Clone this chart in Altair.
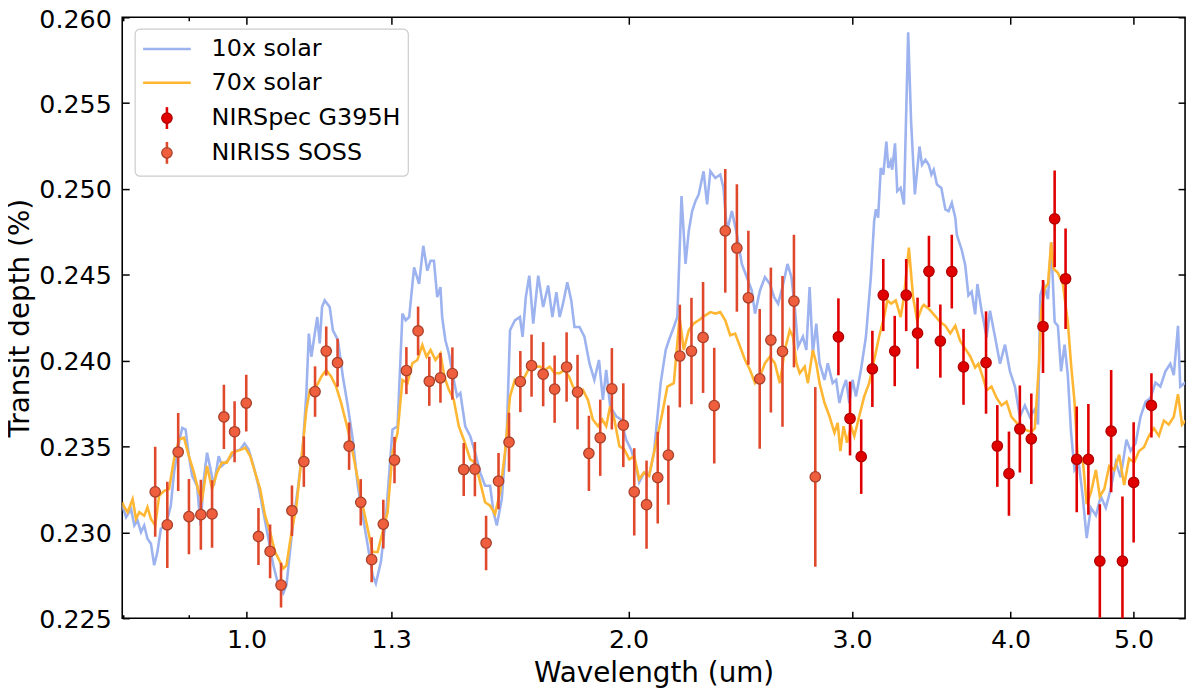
import altair as alt
import pandas as pd

# Transit spectrum: two atmosphere models and two instruments

# model 10x solar (wavelength in um, transit depth in %)
blue_wl = [0.798, 0.8036, 0.8109, 0.8157, 0.8205, 0.8256, 0.8305, 0.8354, 0.8407, 0.8456,
           0.8506, 0.8559, 0.8636, 0.8715, 0.8766, 0.8846, 0.8898, 0.8953, 0.9007, 0.906,
           0.9141, 0.9199, 0.9254, 0.9308, 0.9367, 0.9422, 0.9507, 0.9563, 0.9622, 0.971,
           0.9797, 0.9887, 0.9962, 1.0036, 1.0126, 1.0218, 1.031, 1.0404, 1.0498, 1.0593,
           1.0688, 1.0751, 1.0819, 1.0883, 1.0982, 1.1081, 1.1146, 1.1196, 1.1248, 1.1317,
           1.1369, 1.142, 1.1467, 1.1523, 1.1628, 1.1696, 1.1803, 1.1909, 1.2017, 1.2125,
           1.2236, 1.2346, 1.2458, 1.257, 1.2644, 1.276, 1.2874, 1.3032, 1.3151, 1.3269,
           1.3347, 1.3432, 1.3552, 1.3675, 1.378, 1.3881, 1.3963, 1.4049, 1.4133, 1.4216,
           1.426, 1.4344, 1.4435, 1.4564, 1.4652, 1.4738, 1.487, 1.5006, 1.514, 1.528,
           1.5416, 1.5557, 1.5653, 1.5747, 1.5889, 1.6034, 1.6129, 1.6273, 1.6421, 1.6501,
           1.6598, 1.6703, 1.6823, 1.6976, 1.7129, 1.7285, 1.7418, 1.7545, 1.7649, 1.7757,
           1.7896, 1.8025, 1.813, 1.8296, 1.846, 1.8629, 1.8796, 1.8954, 1.909, 1.9205,
           1.9343, 1.9554, 1.973, 1.991, 2.0089, 2.0268, 2.0388, 2.057, 2.0758, 2.0943,
           2.12, 2.1393, 2.1519, 2.1712, 2.185, 2.2017, 2.2178, 2.2309, 2.2446, 2.2581,
           2.2714, 2.2917, 2.3063, 2.3199, 2.341, 2.3621, 2.3759, 2.391, 2.4124, 2.4344,
           2.4563, 2.4787, 2.5009, 2.5159, 2.5385, 2.5616, 2.5847, 2.6044, 2.6236, 2.6444,
           2.6686, 2.6877, 2.7039, 2.7199, 2.7442, 2.7615, 2.7778, 2.794, 2.8117, 2.8282,
           2.854, 2.8708, 2.8965, 2.9149, 2.9321, 2.9492, 2.9679, 2.9853, 3.0028, 3.0218,
           3.049, 3.0767, 3.1043, 3.123, 3.1327, 3.1455, 3.1608, 3.1752, 3.1929, 3.2043,
           3.2183, 3.2272, 3.2434, 3.2567, 3.2768, 3.2964, 3.3218, 3.3396, 3.3623, 3.3909,
           3.4063, 3.428, 3.4482, 3.4649, 3.4795, 3.50, 3.5279, 3.5537, 3.5746, 3.5955,
           3.6183, 3.6284, 3.6608, 3.6841, 3.7058, 3.7274, 3.7511, 3.7664, 3.7952, 3.8299,
           3.8535, 3.8892, 3.9241, 3.9599, 3.9955, 4.032, 4.0681, 4.1053, 4.1421, 4.1799,
           4.2045, 4.2216, 4.2482, 4.2809, 4.3059, 4.3332, 4.3587, 4.3842, 4.412, 4.438,
           4.4639, 4.4922, 4.5267, 4.5597, 4.5925, 4.6277, 4.67, 4.7118, 4.7549, 4.7974,
           4.8414, 4.8847, 4.9358, 4.9735, 5.019, 5.064, 5.1103, 5.156, 5.203, 5.2497,
           5.2978, 5.3452, 5.379, 5.4203, 5.4423, 5.4921]
blue_depth = [0.23155, 0.23088, 0.23136, 0.2304, 0.23069, 0.23001, 0.2304, 0.22963, 0.22934, 0.22808,
              0.22886, 0.23021, 0.2304, 0.23155, 0.23348, 0.23522, 0.23609, 0.23599, 0.23444, 0.23329,
              0.23271, 0.2304, 0.2331, 0.23464, 0.23368, 0.23271, 0.23444, 0.23387, 0.23406, 0.23435,
              0.23473, 0.23483, 0.23518, 0.23483, 0.23387, 0.23271, 0.23117, 0.22963, 0.22808, 0.22693,
              0.22645, 0.22693, 0.22886, 0.23059, 0.23271, 0.23522, 0.23811, 0.24158, 0.24023, 0.24158,
              0.24254, 0.241, 0.24312, 0.24351, 0.24312, 0.24177, 0.24119, 0.23907, 0.23734, 0.23541,
              0.23271, 0.23097, 0.22924, 0.2275, 0.22702, 0.22828, 0.23078, 0.23599, 0.23618, 0.24274,
              0.24235, 0.24254, 0.24543, 0.24447, 0.24669, 0.24524, 0.24582, 0.24582, 0.2437, 0.24428,
              0.24254, 0.24119, 0.24042, 0.23888, 0.23792, 0.23811, 0.23618, 0.2356, 0.23464, 0.23348,
              0.23271, 0.23271, 0.23117, 0.2304, 0.23194, 0.2358, 0.24177, 0.24235, 0.24254, 0.24139,
              0.2437, 0.24495, 0.24216, 0.24495, 0.24312, 0.24438, 0.24254, 0.24399, 0.24254, 0.24332,
              0.24457, 0.24351, 0.24196, 0.24196, 0.24139, 0.23985, 0.23888, 0.24004, 0.23772, 0.23946,
              0.23734, 0.23676, 0.23657, 0.23541, 0.23483, 0.23387, 0.23291, 0.23348, 0.23329, 0.23464,
              0.23869, 0.24062, 0.24119, 0.24196, 0.24254, 0.24958, 0.24563, 0.24756, 0.24871, 0.24929,
              0.24968, 0.25103, 0.2491, 0.25103, 0.25064, 0.25084, 0.25006, 0.24756, 0.24871, 0.24737,
              0.24563, 0.24486, 0.24409, 0.24274, 0.24409, 0.24486, 0.24447, 0.2437, 0.24332, 0.24428,
              0.24563, 0.24486, 0.24312, 0.24081, 0.24139, 0.24062, 0.24428, 0.24042, 0.24216, 0.23985,
              0.23888, 0.23985, 0.23869, 0.23888, 0.23753, 0.2383, 0.23888, 0.23753, 0.23888, 0.23792,
              0.23946, 0.24139, 0.24486, 0.24813, 0.24881, 0.24833, 0.25122, 0.25084, 0.25276, 0.25122,
              0.25161, 0.25112, 0.25266, 0.24987, 0.25006, 0.2491, 0.25912, 0.25392, 0.24968, 0.25247,
              0.25141, 0.2517, 0.25141, 0.25084, 0.25112, 0.25026, 0.25006, 0.24881, 0.24871, 0.24919,
              0.24833, 0.24733, 0.24645, 0.24557, 0.2438, 0.24402, 0.2427, 0.24446, 0.24291, 0.24137,
              0.24291, 0.24137, 0.23982, 0.24093, 0.23938, 0.23849, 0.23673, 0.23739, 0.23673, 0.23717,
              0.23628, 0.2438, 0.24446, 0.24358, 0.24689, 0.24225, 0.24203, 0.23938, 0.24093, 0.23916,
              0.23584, 0.23364, 0.23407, 0.23209, 0.22966, 0.23143, 0.23099, 0.23209, 0.23143, 0.23253,
              0.23407, 0.2332, 0.2354, 0.23474, 0.23519, 0.23673, 0.23761, 0.23783, 0.23872, 0.23849,
              0.23938, 0.23982, 0.23916, 0.24203, 0.23849, 0.23872]

# model 70x solar
orange_wl = [0.798, 0.8011, 0.8058, 0.8132, 0.8182, 0.8231, 0.8305, 0.8354, 0.8407, 0.8472,
             0.8533, 0.861, 0.8688, 0.8766, 0.8846, 0.8926, 0.9007, 0.9088, 0.9171, 0.9225,
             0.9308, 0.9393, 0.9477, 0.9563, 0.9649, 0.9737, 0.9824, 0.9914, 0.9975, 1.0067,
             1.0157, 1.025, 1.0342, 1.0436, 1.053, 1.0626, 1.0688, 1.0751, 1.085, 1.0947,
             1.1046, 1.1146, 1.1217, 1.1317, 1.1452, 1.1555, 1.166, 1.1765, 1.1873, 1.2017,
             1.2125, 1.2236, 1.2346, 1.2458, 1.257, 1.2685, 1.2799, 1.2916, 1.3032, 1.3151,
             1.3269, 1.339, 1.351, 1.3633, 1.3756, 1.3861, 1.3963, 1.4088, 1.4216, 1.4318,
             1.4435, 1.4564, 1.4697, 1.4829, 1.5006, 1.514, 1.528, 1.5416, 1.5557, 1.5696,
             1.584, 1.5982, 1.6129, 1.6273, 1.6421, 1.6568, 1.672, 1.687, 1.7024, 1.7176,
             1.7334, 1.7489, 1.7649, 1.7806, 1.7952, 1.808, 1.8245, 1.8409, 1.8577, 1.8744,
             1.892, 1.9066, 1.9205, 1.9343, 1.9491, 1.9669, 1.9845, 2.0027, 2.0207, 2.0388,
             2.057, 2.0758, 2.0943, 2.1265, 2.1459, 2.1712, 2.1939, 2.2107, 2.2309, 2.2508,
             2.2714, 2.2992, 2.3199, 2.341, 2.3621, 2.3836, 2.4051, 2.4269, 2.4487, 2.471,
             2.4932, 2.5159, 2.5385, 2.5616, 2.5847, 2.6082, 2.6317, 2.6556, 2.6795, 2.6952,
             2.7123, 2.7282, 2.753, 2.7692, 2.794, 2.8117, 2.8282, 2.854, 2.8797, 2.9059,
             2.923, 2.9373, 2.9544, 2.9732, 2.9945, 3.0125, 3.0396, 3.0672, 3.0948, 3.123,
             3.1511, 3.1798, 3.1986, 3.2215, 3.2476, 3.2768, 3.2964, 3.3261, 3.3515, 3.3761,
             3.4063, 3.4174, 3.4482, 3.4903, 3.5216, 3.5537, 3.5856, 3.6183, 3.6507, 3.6841,
             3.7171, 3.7511, 3.7732, 3.8074, 3.8299, 3.8641, 3.90, 3.935, 3.971, 4.0065,
             4.0432, 4.0794, 4.1167, 4.1536, 4.1799, 4.212, 4.2291, 4.2559, 4.2809, 4.3059,
             4.3246, 4.3587, 4.3984, 4.438, 4.4639, 4.4922, 4.5186, 4.5597, 4.5925, 4.6277,
             4.67, 4.7034, 4.7417, 4.7842, 4.8279, 4.8712, 4.9157, 4.9598, 5.0051, 5.05,
             5.096, 5.1418, 5.1886, 5.2352, 5.283, 5.3304, 5.379, 5.4203, 5.4599, 5.4921]
orange_depth = [0.23175, 0.23146, 0.23117, 0.23194, 0.23078, 0.23117, 0.23097, 0.23146, 0.23078, 0.2304,
                0.23213, 0.23242, 0.23252, 0.23425, 0.23541, 0.23551, 0.23444, 0.23348, 0.23233, 0.23194,
                0.23387, 0.23252, 0.23348, 0.23406, 0.23406, 0.23464, 0.23473, 0.23483, 0.23493, 0.23444,
                0.23348, 0.23252, 0.23097, 0.23001, 0.22886, 0.22828, 0.22789, 0.22808, 0.23001, 0.23155,
                0.23425, 0.23715, 0.2383, 0.2383, 0.23907, 0.23946, 0.23907, 0.23849, 0.23753, 0.23599,
                0.23464, 0.2331, 0.23155, 0.23021, 0.22886, 0.22886, 0.23001, 0.23117, 0.23464, 0.2358,
                0.23888, 0.23869, 0.23985, 0.24004, 0.24091, 0.24023, 0.24062, 0.24004, 0.24042, 0.23907,
                0.2383, 0.23772, 0.23618, 0.23541, 0.23425, 0.23406, 0.23291, 0.23175, 0.23155, 0.23107,
                0.23233, 0.23464, 0.23792, 0.23888, 0.23888, 0.23907, 0.23965, 0.23965, 0.23965, 0.23946,
                0.23965, 0.23927, 0.23927, 0.23946, 0.23907, 0.23849, 0.23811, 0.2383, 0.23772, 0.23657,
                0.23618, 0.23657, 0.23618, 0.23734, 0.23657, 0.23502, 0.23483, 0.23425, 0.23444, 0.2331,
                0.23348, 0.23329, 0.23464, 0.23695, 0.23849, 0.23869, 0.24254, 0.24062, 0.24177, 0.24216,
                0.24235, 0.24264, 0.24283, 0.24274, 0.24283, 0.24235, 0.24148, 0.24158, 0.24081, 0.24004,
                0.23946, 0.23869, 0.23907, 0.23985, 0.24023, 0.23985, 0.23869, 0.24062, 0.24177, 0.24139,
                0.23985, 0.23927, 0.23965, 0.23869, 0.24062, 0.23985, 0.23869, 0.23753, 0.23676, 0.2358,
                0.23638, 0.23473, 0.23618, 0.23522, 0.23618, 0.2356, 0.23676, 0.23792, 0.23869, 0.24004,
                0.24139, 0.24254, 0.24351, 0.24332, 0.24351, 0.24254, 0.2437, 0.24659, 0.2437, 0.24235,
                0.24312, 0.24325, 0.24303, 0.24258, 0.24225, 0.24203, 0.24159, 0.24203, 0.24115, 0.2407,
                0.24026, 0.2396, 0.23982, 0.23894, 0.23827, 0.23849, 0.23783, 0.23739, 0.23761, 0.23673,
                0.23639, 0.23617, 0.23595, 0.23584, 0.23606, 0.23982, 0.24291, 0.24424, 0.24446, 0.24689,
                0.24535, 0.24512, 0.24446, 0.24225, 0.23982, 0.23761, 0.2343, 0.2343, 0.23165, 0.23231,
                0.23364, 0.23209, 0.23253, 0.23385, 0.23364, 0.23452, 0.23275, 0.2343, 0.23407, 0.23474,
                0.23496, 0.23562, 0.23606, 0.23562, 0.23651, 0.23628, 0.23673, 0.23805, 0.23628, 0.23651]

# NIRISS SOSS
niriss_wl = [0.8472, 0.866, 0.8833, 0.9007, 0.9204, 0.9393, 0.9597, 0.9785, 0.9994, 1.0218,
             1.0436, 1.0645, 1.0858, 1.1095, 1.1323, 1.1555, 1.1795, 1.2045, 1.2302, 1.2548,
             1.2816, 1.3079, 1.3364, 1.3651, 1.3931, 1.4216, 1.4527, 1.4829, 1.5133, 1.5444,
             1.5796, 1.61, 1.6434, 1.6772, 1.7129, 1.7489, 1.7873, 1.8231, 1.8611, 1.8998,
             1.9403, 1.981, 2.0207, 2.0663, 2.1087, 2.1498, 2.195, 2.2418, 2.2895, 2.3364,
             2.3836, 2.4344, 2.4856, 2.5373, 2.5893, 2.6444, 2.70, 2.8066]
niriss_depth = [0.23236, 0.23044, 0.23468, 0.23092, 0.23103, 0.23107, 0.23672, 0.23586, 0.23753, 0.22976,
                0.22889, 0.22693, 0.23126, 0.23412, 0.2382, 0.24056, 0.23988, 0.23502, 0.23175, 0.22841,
                0.23048, 0.23421, 0.23942, 0.24173, 0.2388, 0.2390, 0.23925, 0.23366, 0.23368, 0.22938,
                0.23298, 0.23525, 0.23878, 0.23971, 0.23921, 0.23834, 0.23963, 0.23817, 0.2346, 0.23551,
                0.23836, 0.23624, 0.23236, 0.23161, 0.23319, 0.2345, 0.24027, 0.24056, 0.24135, 0.23738,
                0.24756, 0.24656, 0.24366, 0.23894, 0.2412, 0.24054, 0.24347, 0.23323]
niriss_err = [0.00262, 0.00251, 0.00227, 0.00219, 0.00204, 0.00196, 0.00187, 0.00178, 0.00165, 0.00166,
              0.00156, 0.0013, 0.00147, 0.00147, 0.00147, 0.00143, 0.0014, 0.00138, 0.00135, 0.00131,
              0.00142, 0.00135, 0.00137, 0.00142, 0.00143, 0.00145, 0.00152, 0.00154, 0.00158, 0.00159,
              0.00164, 0.00172, 0.00178, 0.00181, 0.00187, 0.00196, 0.00202, 0.00217, 0.00219, 0.00222,
              0.00237, 0.00244, 0.00254, 0.00257, 0.00267, 0.00289, 0.00299, 0.0031, 0.00323, 0.00337,
              0.0036, 0.00371, 0.0039, 0.00407, 0.00422, 0.00439, 0.00386, 0.00523]

# NIRSpec G395H
nirspec_wl = [2.9268, 2.9892, 3.0505, 3.1129, 3.1752, 3.2418, 3.31, 3.3788, 3.4495, 3.5216,
              3.5955, 3.6727, 3.826, 3.9051, 3.9884, 4.0681, 4.1536, 4.2427, 4.3332, 4.42,
              4.5105, 4.6067, 4.7034, 4.8012, 4.9005, 5.0011, 5.1651]
nirspec_depth = [0.24139, 0.23663, 0.23441, 0.23952, 0.24382, 0.24056, 0.24382, 0.2416, 0.2452, 0.24114,
                 0.24519, 0.23964, 0.23989, 0.23503, 0.23342, 0.23602, 0.23545, 0.24199, 0.24826, 0.24477,
                 0.23425, 0.23425, 0.22833, 0.23589, 0.22833, 0.23291, 0.23739]
nirspec_err = [0.00224, 0.00215, 0.00217, 0.00222, 0.0021, 0.00205, 0.0021, 0.00207, 0.00208, 0.00213,
               0.00215, 0.00221, 0.00298, 0.00238, 0.00245, 0.00254, 0.00263, 0.00271, 0.00282, 0.00293,
               0.00308, 0.00323, 0.00331, 0.00356, 0.00376, 0.0035, 0.00187]

x_ticks = [1.0, 1.3, 2.0, 3.0, 4.0, 5.0]
x_minor = [0.8, 0.9]
y_ticks = [0.225, 0.230, 0.235, 0.240, 0.245, 0.250, 0.255, 0.260]
x_domain = [0.798, 5.49]
y_domain = [0.225, 0.260]

series = ['10x solar', '70x solar', 'NIRSpec G395H', 'NIRISS SOSS']

# cores (linhas, marcadores, bordas, barras de erro)
BLUE = '#9db3ef'
ORANGE = '#ffb733'
SPEC_FILL, SPEC_EDGE, SPEC_BAR = '#e00000', '#b00000', '#e00000'
SOSS_FILL, SOSS_EDGE, SOSS_BAR = '#ef5f3d', '#a8402a', '#e0482c'
FONT = 'DejaVu Sans'

# tabelas
df_blue = pd.DataFrame({'wl': blue_wl, 'depth': blue_depth})
df_orange = pd.DataFrame({'wl': orange_wl, 'depth': orange_depth})


def obs_table(wl, depth, err):
    df = pd.DataFrame({'wl': wl, 'depth': depth, 'err': err})
    df['lo'] = df['depth'] - df['err']
    df['hi'] = df['depth'] + df['err']
    return df


df_spec = obs_table(nirspec_wl, nirspec_depth, nirspec_err)
df_soss = obs_table(niriss_wl, niriss_depth, niriss_err)

x_scale = alt.Scale(type='log', domain=x_domain, nice=False)
y_scale = alt.Scale(domain=y_domain, nice=False, zero=False)

# eixos com ticks para dentro (offset negativo); só a primeira camada desenha os eixos
x_axis = alt.Axis(values=x_ticks, format='.1f', title='Wavelength (um)', offset=-7, tickSize=7,
                  domain=False, grid=False, labelPadding=9, titlePadding=7)
# o rótulo do topo desce um pouco para não ser cortado pela borda da página
y_axis = alt.Axis(values=y_ticks, format='.3f', title='Transit depth (%)', offset=-7, tickSize=7,
                  domain=False, grid=False, labelPadding=11, titlePadding=4,
                  labelOffset={'condition': {'test': 'datum.value > 0.2595', 'value': 2}, 'value': 1})

x_plain = alt.X('wl:Q', scale=x_scale, axis=None)
y_plain = alt.Y('depth:Q', scale=y_scale, axis=None)

blue = alt.Chart(df_blue).mark_line(color=BLUE, strokeWidth=2.6, clip=True).encode(
    x=alt.X('wl:Q', scale=x_scale, axis=x_axis), y=alt.Y('depth:Q', scale=y_scale, axis=y_axis))
orange = alt.Chart(df_orange).mark_line(color=ORANGE, strokeWidth=2.6, clip=True).encode(x=x_plain, y=y_plain)


def obs_layers(df, fill, edge, bar):
    bars = alt.Chart(df).mark_rule(color=bar, strokeWidth=2.6, clip=True).encode(
        x=x_plain, y=alt.Y('lo:Q', scale=y_scale, axis=None), y2='hi:Q')
    dots = alt.Chart(df).mark_point(filled=True, size=110, opacity=1, fill=fill, stroke=edge,
                                    strokeWidth=1.3, clip=True).encode(x=x_plain, y=y_plain)
    return [bars, dots]


# camadas invisíveis só para os ticks de cima/direita e os ticks menores
frame = alt.Chart(df_blue).mark_line(opacity=0).encode(
    x=alt.X('wl:Q', scale=x_scale, axis=alt.Axis(orient='top', values=x_ticks, labels=False, title=None,
                                                  offset=-7, tickSize=7, domain=False, grid=False)),
    y=alt.Y('depth:Q', scale=y_scale, axis=alt.Axis(orient='right', values=y_ticks, labels=False, title=None,
                                                     offset=-7, tickSize=7, domain=False, grid=False)))
minor_bottom = alt.Chart(df_blue).mark_line(opacity=0).encode(
    x=alt.X('wl:Q', scale=x_scale, axis=alt.Axis(orient='bottom', values=x_minor, labels=False, title=None,
                                                  offset=-3.5, tickSize=3.5, domain=False, grid=False)),
    y=y_plain)
minor_top = alt.Chart(df_blue).mark_line(opacity=0).encode(
    x=alt.X('wl:Q', scale=x_scale, axis=alt.Axis(orient='top', values=x_minor, labels=False, title=None,
                                                  offset=-3.5, tickSize=3.5, domain=False, grid=False)),
    y=y_plain)

# legenda desenhada à mão (caixa, amostras e textos), em pixels do painel
row_y = [32, 66, 101.5, 136.5]
one = pd.DataFrame({'k': [0]})

legend_box = alt.Chart(one).mark_rect(fill='white', stroke='#cccccc', strokeWidth=1.2, cornerRadius=5).encode(
    x=alt.value(13), x2=alt.value(288), y=alt.value(12), y2=alt.value(160))

legend_layers = [legend_box]
for name, y, kind, c, e in [(series[0], row_y[0], 'line', BLUE, None),
                            (series[1], row_y[1], 'line', ORANGE, None),
                            (series[2], row_y[2], 'dot', SPEC_FILL, SPEC_EDGE),
                            (series[3], row_y[3], 'dot', SOSS_FILL, SOSS_EDGE)]:
    if kind == 'line':
        legend_layers.append(alt.Chart(one).mark_rule(color=c, strokeWidth=2.6).encode(
            x=alt.value(21), x2=alt.value(69), y=alt.value(y)))
    else:
        bar_c = SPEC_BAR if name == series[2] else SOSS_BAR
        legend_layers.append(alt.Chart(one).mark_rule(color=bar_c, strokeWidth=2.6).encode(
            x=alt.value(45), y=alt.value(y - 11), y2=alt.value(y + 11)))
        legend_layers.append(alt.Chart(one).mark_point(filled=True, size=110, opacity=1, fill=c, stroke=e,
                                                       strokeWidth=1.3).encode(x=alt.value(45), y=alt.value(y)))
    legend_layers.append(alt.Chart(pd.DataFrame({'label': [name]})).mark_text(
        align='left', baseline='middle', font=FONT, fontSize=24, color='black').encode(
        x=alt.value(90), y=alt.value(y), text='label:N'))

chart = alt.layer(
    blue, orange, *obs_layers(df_soss, SOSS_FILL, SOSS_EDGE, SOSS_BAR),
    *obs_layers(df_spec, SPEC_FILL, SPEC_EDGE, SPEC_BAR), frame, minor_bottom, minor_top, *legend_layers
).resolve_axis(x='independent', y='independent').properties(
    width=1070, height=605,
    autosize=alt.AutoSizeParams(type='none'),
    padding={'left': 115, 'top': 7, 'right': 7, 'bottom': 75},
).configure_view(stroke='black', strokeWidth=1.6).configure_axis(
    labelFont=FONT, labelFontSize=25.5, labelColor='black',
    titleFont=FONT, titleFontSize=28, titleFontWeight='normal', titleColor='black',
    tickColor='black', tickWidth=1.5,
)

chart.save('out.html', embed_options={'renderer': 'svg', 'actions': False})
